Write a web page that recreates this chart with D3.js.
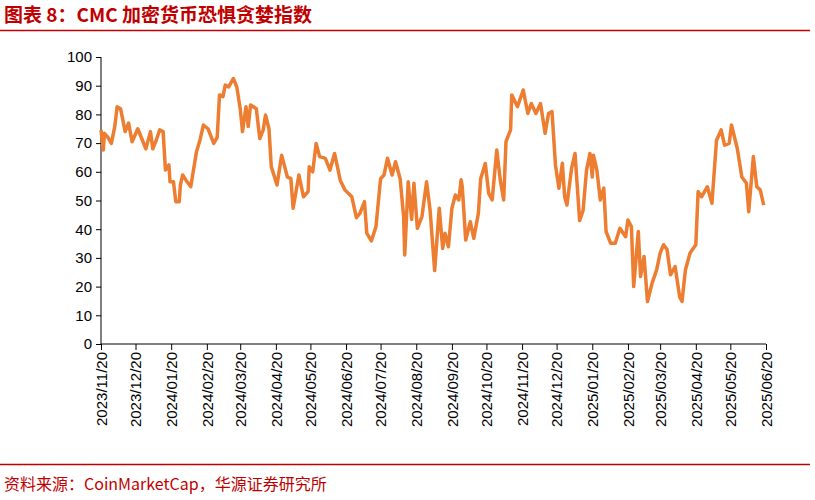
<!DOCTYPE html>
<html><head><meta charset="utf-8">
<script src="https://cdn.jsdelivr.net/npm/d3@7"></script>
<style>body{margin:0;background:#fff}</style>
</head><body><div id="chart"></div>
<script>
// day offsets from 2023/11/20 and index values
const days = [0,2,3,6,9,12,14,17,21,24,27,32,36,39,43,45,48,51,54,56,59,60,63,65,68,69,71,74,78,83,86,89,93,98,101,103,106,108,111,115,118,121,123,126,128,130,135,138,141,143,146,148,153,157,162,165,167,172,176,180,181,184,187,190,195,199,203,208,212,218,222,225,229,231,235,239,243,246,249,253,256,260,263,264,267,270,272,275,279,283,286,290,294,297,299,302,305,308,311,313,314,317,321,324,328,330,334,337,340,344,347,350,352,356,357,362,367,371,374,378,382,386,389,392,395,398,401,403,405,409,412,416,419,422,425,427,428,431,434,437,439,443,447,451,456,458,461,463,467,469,472,475,479,483,486,489,492,495,499,503,505,508,512,517,519,522,527,531,535,539,542,546,548,553,557,561,563,567,570,573,576]
const values = [74.6,67.6,73.4,72,69.9,75.8,82.7,82,74,77,70.5,75,71,68,74,68,71,74.6,74,60.6,62.4,56.5,56.5,49.6,49.6,55.4,58.9,57,54.8,67,71,76.3,75,69.9,72,86.8,86.2,90.2,89.6,92.5,89.6,82,74,82.7,75.8,83.3,82,71.6,74.6,79.8,75,61.8,55.4,65.8,58.2,57.6,47.3,58.9,51.3,53.1,61.8,60,69.9,65.3,64.7,60.6,66.4,57,53.7,51.3,44,45.5,49.6,38.6,35.9,40.9,57.6,58.9,64.7,58.9,63.5,57.6,44.5,31,56.5,43.4,56,40.3,44.5,56.5,46.8,25.6,47.3,33.3,38.6,33.9,47.3,51.9,50.2,57.2,54.8,36.2,42.6,36.8,45.5,57.6,62.9,52.5,50.2,67.6,57.2,50.2,70.5,74.6,86.8,82.7,88.5,80.3,83.8,80.3,83.8,73.4,80.3,81,62.4,54.3,63,51.3,48.4,61.2,66.4,43,46.5,60.6,66.4,58.2,65.8,60.6,50.2,54.3,39.2,35.1,35.1,40.3,37.4,43.2,40.9,20,39.2,23.5,30.5,14.8,21.2,25.9,31.7,34.6,32.9,24.1,27,16.4,14.8,25.9,31.7,34.6,53.1,51.3,54.8,49,71,74.6,69.3,69.9,76.3,68.2,58.2,56,46.1,65.3,54.8,53.7,48.4]
const tickLabels = ["2023/11/20","2023/12/20","2024/01/20","2024/02/20","2024/03/20","2024/04/20","2024/05/20","2024/06/20","2024/07/20","2024/08/20","2024/09/20","2024/10/20","2024/11/20","2024/12/20","2025/01/20","2025/02/20","2025/03/20","2025/04/20","2025/05/20","2025/06/20"]
const yTicks = [0,10,20,30,40,50,60,70,80,90,100]

const width = 815, height = 500
const parse = d3.timeParse("%Y/%m/%d")
const start = parse("2023/11/20")
const data = days.map((d, i) => ({date: d3.timeDay.offset(start, d), v: values[i]}))

const svg = d3.select("#chart").append("svg").attr("width", width).attr("height", height)
  .style("font-family", "Liberation Sans, Arial, sans-serif")

svg.append("text").attr("x", 4).attr("y", 22).attr("fill", "#c00000")
  .attr("font-size", 19).attr("font-weight", "bold")
  .style("font-family", "Noto Sans CJK SC, sans-serif")
  .text("图表 8：CMC 加密货币恐惧贪婪指数")
svg.append("line").attr("x1", 0).attr("x2", 810).attr("y1", 30.5).attr("y2", 30.5)
  .attr("stroke", "#c00000").attr("stroke-width", 1.5)
svg.append("line").attr("x1", 0).attr("x2", 810).attr("y1", 464.5).attr("y2", 464.5)
  .attr("stroke", "#c00000").attr("stroke-width", 1.5)
svg.append("text").attr("x", 4).attr("y", 490).attr("fill", "#c00000")
  .attr("font-size", 16).style("font-family", "Noto Sans CJK SC, sans-serif")
  .text("资料来源：CoinMarketCap，华源证券研究所")

const x = d3.scaleTime().domain([start, parse("2025/06/20")]).range([101, 766])
const y = d3.scaleLinear().domain([0, 100]).range([344, 57])

const yAxis = svg.append("g").attr("transform", "translate(101,0)")
  .call(d3.axisLeft(y).tickValues(yTicks).tickSize(5).tickPadding(4))
yAxis.selectAll("text").attr("font-size", 15).attr("fill", "#000")
  .style("font-family", "Liberation Sans, Arial, sans-serif")
yAxis.selectAll("line,path").attr("stroke", "#000")
yAxis.select("path").attr("d", "M0,344V57")

const xAxis = svg.append("g").attr("transform", "translate(0,344)")
  .call(d3.axisBottom(x).tickValues(tickLabels.map(parse)).tickSize(6).tickFormat(d3.timeFormat("%Y/%m/%d")))
xAxis.selectAll("line,path").attr("stroke", "#000")
xAxis.select("path").attr("d", "M101,0H766")
xAxis.selectAll("text").attr("font-size", 15).attr("fill", "#000")
  .style("font-family", "Liberation Sans, Arial, sans-serif")
  .attr("transform", "rotate(-90)").attr("text-anchor", "end")
  .attr("x", -8).attr("y", 0).attr("dy", "0.35em")

svg.append("path").datum(data)
  .attr("fill", "none").attr("stroke", "#ed7d31").attr("stroke-width", 3.5)
  .attr("stroke-linejoin", "round")
  .attr("d", d3.line().x(d => x(d.date)).y(d => y(d.v)))
</script></body></html>
